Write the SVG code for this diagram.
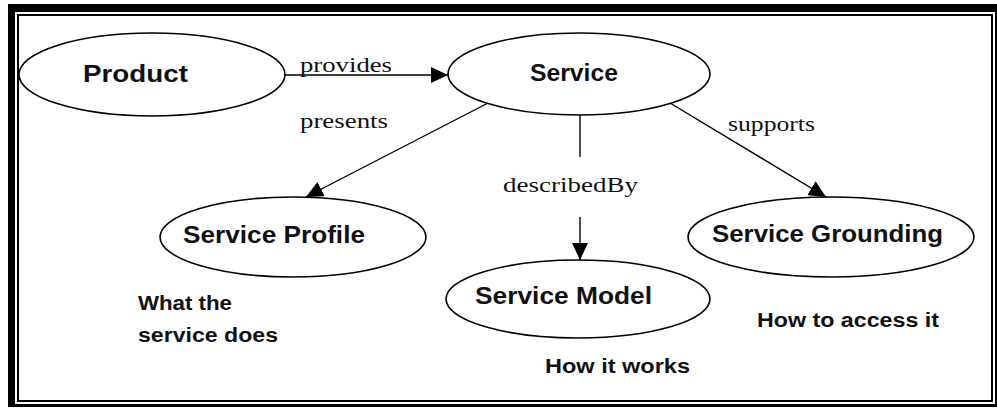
<svg xmlns="http://www.w3.org/2000/svg" width="997" height="409" viewBox="0 0 997 409">
  <style>
    .node ellipse { fill: #ffffff; stroke: #000000; stroke-width: 1.6; }
    .label { font-family: "Liberation Sans", Arial, sans-serif; font-weight: bold; font-size: 23px; fill: #111111; }
    .note { font-family: "Liberation Sans", Arial, sans-serif; font-weight: bold; font-size: 20px; fill: #111111; }
    .rel { font-family: "Liberation Serif", "Times New Roman", serif; font-size: 20px; fill: #111111; }
    .edge { stroke: #000000; stroke-width: 1.4; fill: none; }
  </style>
  <defs>
    <marker id="arrow" markerUnits="userSpaceOnUse" markerWidth="18" markerHeight="16" refX="17" refY="8" orient="auto">
      <path d="M0,0 L17,8 L0,16 Z" fill="#000000"/>
    </marker>
  </defs>

  <!-- double frame -->
  <rect x="0" y="0" width="997" height="409" fill="#ffffff"/>
  <rect x="8" y="4" width="989" height="403" fill="#000000"/>
  <rect x="15" y="12" width="980" height="392" fill="#ffffff"/>
  <rect x="18" y="15" width="974" height="386" fill="none" stroke="#000000" stroke-width="2"/>

  <!-- connectors -->
  <g id="connectors">
    <line class="edge" x1="285" y1="75" x2="448" y2="75" marker-end="url(#arrow)"/>
    <line class="edge" x1="490" y1="102" x2="306" y2="197" marker-end="url(#arrow)"/>
    <line class="edge" x1="580" y1="115" x2="580" y2="157"/>
    <line class="edge" x1="580" y1="217" x2="580" y2="260" marker-end="url(#arrow)"/>
    <line class="edge" x1="670" y1="103" x2="826" y2="197" marker-end="url(#arrow)"/>
    <text class="rel" x="300" y="72" textLength="92" lengthAdjust="spacingAndGlyphs">provides</text>
    <text class="rel" x="300" y="128" textLength="88" lengthAdjust="spacingAndGlyphs">presents</text>
    <text class="rel" x="503" y="192" textLength="135" lengthAdjust="spacingAndGlyphs">describedBy</text>
    <text class="rel" x="728" y="131" textLength="87" lengthAdjust="spacingAndGlyphs">supports</text>
  </g>

  <g id="product" class="node">
    <ellipse cx="152" cy="74.5" rx="133" ry="41.5"/>
    <text class="label" x="83" y="82" textLength="105" lengthAdjust="spacingAndGlyphs">Product</text>
  </g>

  <g id="service" class="node">
    <ellipse cx="579" cy="74" rx="131" ry="41"/>
    <text class="label" x="530" y="81" textLength="88" lengthAdjust="spacingAndGlyphs">Service</text>
  </g>

  <g id="service-profile" class="node">
    <ellipse cx="293" cy="237" rx="133" ry="40"/>
    <text class="label" x="183" y="243" textLength="182" lengthAdjust="spacingAndGlyphs">Service Profile</text>
    <text class="note" x="138" y="310" textLength="94" lengthAdjust="spacingAndGlyphs">What the</text>
    <text class="note" x="138" y="342" textLength="140" lengthAdjust="spacingAndGlyphs">service does</text>
  </g>

  <g id="service-model" class="node">
    <ellipse cx="578" cy="299" rx="132" ry="39"/>
    <text class="label" x="475" y="304" textLength="177" lengthAdjust="spacingAndGlyphs">Service Model</text>
    <text class="note" x="545" y="373" textLength="145" lengthAdjust="spacingAndGlyphs">How it works</text>
  </g>

  <g id="service-grounding" class="node">
    <ellipse cx="831" cy="237" rx="143" ry="40"/>
    <text class="label" x="712" y="242" textLength="231" lengthAdjust="spacingAndGlyphs">Service Grounding</text>
    <text class="note" x="757" y="327" textLength="182" lengthAdjust="spacingAndGlyphs">How to access it</text>
  </g>
</svg>
